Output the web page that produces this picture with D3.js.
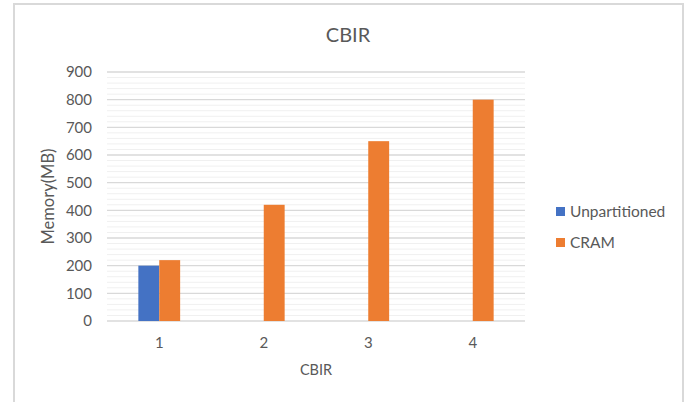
<!DOCTYPE html>
<html>
<head>
<meta charset="utf-8">
<script src="https://cdn.jsdelivr.net/npm/d3@7/dist/d3.min.js"></script>
<style>
  html, body { margin: 0; padding: 0; background: #ffffff; }
  svg { display: block; font-family: Lato, "Open Sans", sans-serif; }
</style>
</head>
<body>
<svg id="chart" width="686" height="402"></svg>
<script>
// Chart data
const categories = ["1", "2", "3", "4"];
const seriesNames = ["Unpartitioned", "CRAM"];
const unpartitioned = [200, null, null, null];
const cram = [220, 420, 650, 800];
const yTicks = [0, 100, 200, 300, 400, 500, 600, 700, 800, 900];
const chartTitle = "CBIR";
const xTitle = "CBIR";
const yTitle = "Memory(MB)";

const colors = { "Unpartitioned": "#4472C4", "CRAM": "#ED7D31" };
const seriesValues = { "Unpartitioned": unpartitioned, "CRAM": cram };

const svg = d3.select("#chart");

// Outer chart frame
svg.append("rect")
  .attr("x", 14).attr("y", 4)
  .attr("width", 669).attr("height", 410)
  .attr("fill", "#ffffff")
  .attr("stroke", "#d9d9d9")
  .attr("stroke-width", 2);

const plot = { left: 107, right: 525, top: 72, bottom: 321 };

const x0 = d3.scaleBand()
  .domain(categories)
  .range([plot.left, plot.right])
  .paddingInner(0.6)
  .paddingOuter(0.3);

const x1 = d3.scaleBand()
  .domain(seriesNames)
  .range([0, x0.bandwidth()]);

const y = d3.scaleLinear()
  .domain([0, 900])
  .range([plot.bottom, plot.top]);

// Minor gridlines every 20
const minor = d3.range(0, 901, 20).filter(v => v % 100 !== 0);
svg.append("g").selectAll("line")
  .data(minor)
  .join("line")
  .attr("x1", plot.left).attr("x2", plot.right)
  .attr("y1", d => y(d)).attr("y2", d => y(d))
  .attr("stroke", "#f0f0f0")
  .attr("stroke-width", 1);

// Major gridlines
svg.append("g").selectAll("line")
  .data(yTicks)
  .join("line")
  .attr("x1", plot.left).attr("x2", plot.right)
  .attr("y1", d => y(d)).attr("y2", d => y(d))
  .attr("stroke", "#d9d9d9")
  .attr("stroke-width", 1.3);

// Y axis labels
const yAxis = d3.axisLeft(y).tickValues(yTicks).tickSize(0).tickPadding(0);
const gy = svg.append("g")
  .attr("transform", `translate(92,0)`)
  .call(yAxis);
gy.select(".domain").remove();
gy.selectAll("text")
  .attr("fill", "#595959")
  .style("font-size", "15px")
  .style("font-family", "Lato, 'Open Sans', sans-serif");

// Bars
const rows = [];
categories.forEach((c, i) => {
  seriesNames.forEach(s => {
    const v = seriesValues[s][i];
    if (v != null) rows.push({ cat: c, series: s, value: v });
  });
});

svg.append("g").selectAll("rect")
  .data(rows)
  .join("rect")
  .attr("x", d => x0(d.cat) + x1(d.series))
  .attr("y", d => y(d.value))
  .attr("width", x1.bandwidth())
  .attr("height", d => y(0) - y(d.value))
  .attr("fill", d => colors[d.series]);

// X axis labels
const xAxis = d3.axisBottom(x0).tickSize(0).tickPadding(0);
const gx = svg.append("g")
  .attr("transform", `translate(0,${plot.bottom + 16})`)
  .call(xAxis);
gx.select(".domain").remove();
gx.selectAll("text")
  .attr("fill", "#595959")
  .style("font-size", "15px")
  .style("font-family", "Lato, 'Open Sans', sans-serif");

// Titles
svg.append("text")
  .attr("x", 348).attr("y", 42)
  .attr("text-anchor", "middle")
  .attr("fill", "#595959")
  .style("font-size", "20px")
  .text(chartTitle);

svg.append("text")
  .attr("x", (plot.left + plot.right) / 2).attr("y", 375)
  .attr("text-anchor", "middle")
  .attr("fill", "#595959")
  .style("font-size", "14.5px")
  .text(xTitle);

svg.append("text")
  .attr("transform", `translate(54,${(plot.top + plot.bottom) / 2}) rotate(-90)`)
  .attr("text-anchor", "middle")
  .attr("fill", "#595959")
  .style("font-size", "16.5px")
  .text(yTitle);

// Legend
const legend = svg.append("g").selectAll("g")
  .data(seriesNames)
  .join("g")
  .attr("transform", (d, i) => `translate(556,${212 + i * 31})`);
legend.append("rect")
  .attr("x", 0).attr("y", -5)
  .attr("width", 9).attr("height", 9)
  .attr("fill", d => colors[d]);
legend.append("text")
  .attr("x", 14).attr("y", 0)
  .attr("dy", "0.35em")
  .attr("fill", "#595959")
  .style("font-size", "15.5px")
  .text(d => d);
</script>
</body>
</html>
